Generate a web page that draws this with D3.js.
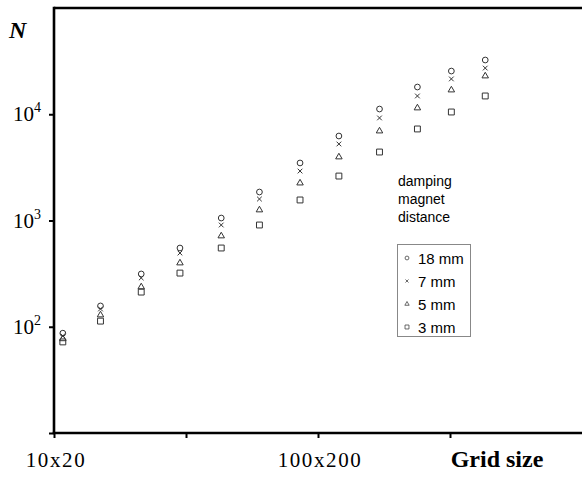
<!DOCTYPE html>
<html>
<head>
<meta charset="utf-8">
<script src="https://cdn.jsdelivr.net/npm/d3@7"></script>
<style>
    body { margin: 0; background: #fff; }
    svg { display: block; }
</style>
</head>
<body>
<div id="chart"></div>
<script>
// grid size n (grid is n x 2n)
const gridN = [10.8, 15, 21.4, 30, 43, 60, 85.5, 120, 171, 238, 320, 430];

// N per damping magnet distance
const series18 = [87, 157, 314, 551, 1055, 1854, 3480, 6240, 11200, 18040, 25500, 32400];
const series7 = [82, 147, 288, 494, 907, 1593, 2920, 5250, 9230, 14860, 21500, 27200];
const series5 = [77, 129, 237, 398, 715, 1256, 2250, 3960, 6950, 11450, 16900, 22900];
const series3 = [72, 113, 212, 320, 551, 907, 1560, 2620, 4410, 7270, 10500, 14860];

const seriesNames = ["18 mm", "7 mm", "5 mm", "3 mm"];
const yTicks = [10, 100, 1000, 10000];
const yTickExp = ["", "2", "3", "4"];
const xTicks = [10, 10 * Math.sqrt(10), 100, 100 * Math.sqrt(10)];
const xTickLabels = ["10x20", "", "100x200", ""];

const width = 582,
    height = 477,
    plotLeft = 54,
    plotRight = 582,
    plotTop = 8,
    plotBottom = 433;

const svg = d3.select("#chart").append("svg")
    .attr("width", width)
    .attr("height", height);

const x = d3.scaleLog().domain([10, 1000]).range([plotLeft, plotRight]),
    y = d3.scaleLog().domain([10, 1e5]).range([plotBottom, plotTop]);

const symbols = [d3.symbolCircle, d3.symbolTimes, d3.symbolTriangle2, d3.symbolSquare2],
    symbolSizes = [26, 16, 30, 44];

// frame lines
const frame = svg.append("g")
    .attr("stroke", "#000")
    .attr("stroke-width", 2.6)
    .attr("fill", "none");
frame.append("line").attr("x1", plotLeft).attr("x2", plotRight).attr("y1", plotTop).attr("y2", plotTop);
frame.append("line").attr("x1", plotLeft).attr("x2", plotLeft).attr("y1", plotTop - 1.3).attr("y2", plotBottom);
frame.append("line").attr("x1", plotLeft - 1.3).attr("x2", plotRight).attr("y1", plotBottom).attr("y2", plotBottom);

// y axis ticks
svg.append("g")
    .attr("transform", `translate(${plotLeft},0)`)
    .call(d3.axisLeft(y).tickValues(yTicks).tickSize(5).tickFormat(""))
    .call(g => g.select(".domain").remove())
    .call(g => g.selectAll(".tick line").attr("stroke-width", 2));

yTicks.forEach((t, i) => {
    if (!yTickExp[i]) return;
    const label = svg.append("text")
        .attr("x", 41)
        .attr("y", y(t) + 7)
        .attr("text-anchor", "end")
        .style("font-family", "'Liberation Serif', 'Times New Roman', serif")
        .style("font-size", "21px");
    label.append("tspan").text("10");
    label.append("tspan")
        .attr("dy", -9)
        .style("font-size", "14px")
        .text(yTickExp[i]);
});

// x axis ticks
svg.append("g")
    .attr("transform", `translate(0,${plotBottom})`)
    .call(d3.axisBottom(x).tickValues(xTicks).tickSize(5).tickFormat(""))
    .call(g => g.select(".domain").remove())
    .call(g => g.selectAll(".tick line").attr("stroke-width", 2));

xTicks.forEach((t, i) => {
    if (!xTickLabels[i]) return;
    svg.append("text")
        .attr("x", x(t) + 2)
        .attr("y", 467)
        .attr("text-anchor", "middle")
        .style("font-family", "'Liberation Serif', 'Times New Roman', serif")
        .style("font-size", "21px")
        .style("letter-spacing", "1.6px")
        .text(xTickLabels[i]);
});

// axis titles
svg.append("text")
    .attr("x", 9)
    .attr("y", 38)
    .style("font-family", "'Liberation Serif', 'Times New Roman', serif")
    .style("font-size", "24px")
    .style("font-weight", "bold")
    .style("font-style", "italic")
    .text("N");

svg.append("text")
    .attr("x", 497)
    .attr("y", 467)
    .attr("text-anchor", "middle")
    .style("font-family", "'Liberation Serif', 'Times New Roman', serif")
    .style("font-size", "24px")
    .style("font-weight", "bold")
    .text("Grid size");

// points
const allSeries = [series18, series7, series5, series3];
allSeries.forEach((values, si) => {
    svg.append("g")
        .selectAll("path")
        .data(values)
        .enter()
        .append("path")
        .attr("transform", (d, i) => `translate(${x(gridN[i])},${y(d)})`)
        .attr("d", d3.symbol().type(symbols[si]).size(symbolSizes[si]))
        .attr("fill", "none")
        .attr("stroke", "#333")
        .attr("stroke-width", 1);
});

// legend
const note = svg.append("text")
    .attr("x", 398)
    .attr("y", 186)
    .style("font-family", "'Liberation Sans', Arial, sans-serif")
    .style("font-size", "14px");
["damping", "magnet", "distance"].forEach((line, i) => {
    note.append("tspan").attr("x", 398).attr("dy", i ? 18 : 0).text(line);
});

svg.append("rect")
    .attr("x", 397.5)
    .attr("y", 244.5)
    .attr("width", 73)
    .attr("height", 92)
    .attr("fill", "#fff")
    .attr("stroke", "#888")
    .attr("stroke-width", 1);

seriesNames.forEach((name, i) => {
    const cy = 258 + i * 23;
    svg.append("path")
        .attr("transform", `translate(407,${cy})`)
        .attr("d", d3.symbol().type(symbols[i]).size(symbolSizes[i] * 0.45))
        .attr("fill", "none")
        .attr("stroke", "#444")
        .attr("stroke-width", 0.8);
    svg.append("text")
        .attr("x", 418)
        .attr("y", cy + 5.5)
        .style("font-family", "'Liberation Sans', Arial, sans-serif")
        .style("font-size", "15px")
        .text(name);
});
</script>
</body>
</html>
